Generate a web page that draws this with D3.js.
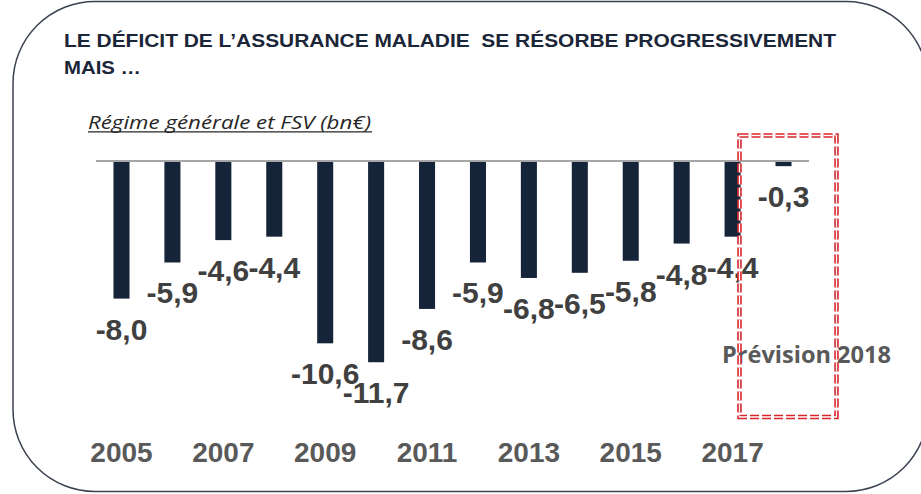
<!DOCTYPE html>
<html>
<head>
<meta charset="utf-8">
<script src="https://cdn.jsdelivr.net/npm/d3@7"></script>
<style>
  body { margin: 0; background: #fff; }
  svg { display: block; }
</style>
</head>
<body>
<script>
var years = ["2005","2006","2007","2008","2009","2010","2011","2012","2013","2014","2015","2016","2017","2018"];
var deficits = [-8.0, -5.9, -4.6, -4.4, -10.6, -11.7, -8.6, -5.9, -6.8, -6.5, -5.8, -4.8, -4.4, -0.3];
var yearTicks = ["2005","2007","2009","2011","2013","2015","2017"];
var titleLines = ["LE DÉFICIT DE L\u2019ASSURANCE MALADIE  SE RÉSORBE PROGRESSIVEMENT", "MAIS \u2026"];
var subtitle = "Régime générale et FSV (bn€)";
var forecastLabel = "Prévision 2018";

var width = 921, height = 494;

var svg = d3.select("body")
    .append("svg")
    .attr("width", width)
    .attr("height", height);

// rounded frame
svg.append("rect")
    .attr("x", 13).attr("y", 1.5)
    .attr("width", 915).attr("height", 490)
    .attr("rx", 82).attr("ry", 82)
    .attr("fill", "none")
    .attr("stroke", "#3b4252")
    .attr("stroke-width", 1.5);

// title
svg.append("text")
    .attr("x", 64).attr("y", 47)
    .attr("font-family", "Liberation Sans, Arial, sans-serif")
    .attr("font-weight", "bold")
    .attr("font-size", "18.5px")
    .attr("fill", "#1b2638")
    .attr("textLength", 772)
    .attr("lengthAdjust", "spacingAndGlyphs")
    .style("white-space", "pre")
    .text(titleLines[0]);

svg.append("text")
    .attr("x", 64).attr("y", 74)
    .attr("font-family", "Liberation Sans, Arial, sans-serif")
    .attr("font-weight", "bold")
    .attr("font-size", "18.5px")
    .attr("fill", "#1b2638")
    .attr("textLength", 77)
    .attr("lengthAdjust", "spacingAndGlyphs")
    .text(titleLines[1]);

// subtitle, underlined
svg.append("text")
    .attr("x", 88).attr("y", 128.5)
    .attr("font-family", "Open Sans, sans-serif")
    .attr("font-style", "italic")
    .attr("font-size", "17.5px")
    .attr("fill", "#262626")
    .attr("textLength", 283)
    .attr("lengthAdjust", "spacingAndGlyphs")
    .text(subtitle);

svg.append("line")
    .attr("x1", 88).attr("x2", 372)
    .attr("y1", 131.8).attr("y2", 131.8)
    .attr("stroke", "#262626")
    .attr("stroke-width", 1.2);

// scales
var x = d3.scaleBand()
    .domain(years)
    .range([96, 809])
    .paddingInner(0.685)
    .paddingOuter(0.343);

var y = d3.scaleLinear()
    .domain([-12, 0])
    .range([161 + 12 * 17.2, 161]);

var fr = d3.formatLocale({decimal: ",", thousands: " ", grouping: [3], currency: ["", "€"], minus: "-"});
var fmt = fr.format(".1f");

var data = years.map(function(d, i) { return {year: d, value: deficits[i]}; });

svg.selectAll("rect.bar")
    .data(data)
    .enter().append("rect")
    .attr("class", "bar")
    .attr("x", function(d) { return x(d.year); })
    .attr("width", x.bandwidth())
    .attr("y", y(0))
    .attr("height", function(d) { return y(d.value) - y(0); })
    .attr("fill", "#16243a");

// zero line
svg.append("line")
    .attr("x1", x.range()[0]).attr("x2", x.range()[1])
    .attr("y1", y(0)).attr("y2", y(0))
    .attr("stroke", "#a6a6a6")
    .attr("stroke-width", 2);

// value labels
svg.selectAll("text.val")
    .data(data)
    .enter().append("text")
    .attr("class", "val")
    .attr("x", function(d) { return x(d.year) + x.bandwidth() / 2; })
    .attr("y", function(d) { return y(d.value) + 41; })
    .attr("text-anchor", "middle")
    .attr("font-family", "Liberation Sans, Arial, sans-serif")
    .attr("font-weight", "bold")
    .attr("font-size", "30px")
    .attr("fill", "#404040")
    .text(function(d) { return fmt(d.value); });

// year axis labels
svg.selectAll("text.year")
    .data(yearTicks)
    .enter().append("text")
    .attr("class", "year")
    .attr("x", function(d) { return x(d) + x.bandwidth() / 2; })
    .attr("y", 462)
    .attr("text-anchor", "middle")
    .attr("font-family", "Liberation Sans, Arial, sans-serif")
    .attr("font-weight", "bold")
    .attr("font-size", "28px")
    .attr("fill", "#595959")
    .text(function(d) { return d; });

// forecast label
svg.append("text")
    .attr("x", 722).attr("y", 363)
    .attr("font-family", "Open Sans, sans-serif")
    .attr("font-weight", "bold")
    .attr("font-size", "23.5px")
    .attr("fill", "#595959")
    .attr("textLength", 169)
    .attr("lengthAdjust", "spacingAndGlyphs")
    .text(forecastLabel);

// forecast box (double dashed red)
var box = {x: 739.5, y: 135.5, w: 97, h: 281.5};
svg.append("rect")
    .attr("x", box.x).attr("y", box.y)
    .attr("width", box.w).attr("height", box.h)
    .attr("fill", "none")
    .attr("stroke", "#d9262c")
    .attr("stroke-width", 4.5)
    .attr("stroke-dasharray", "9,3");
svg.append("rect")
    .attr("x", box.x).attr("y", box.y)
    .attr("width", box.w).attr("height", box.h)
    .attr("fill", "none")
    .attr("stroke", "#fff")
    .attr("stroke-width", 1.3)
    .attr("stroke-dasharray", "9,3");
</script>
</body>
</html>
